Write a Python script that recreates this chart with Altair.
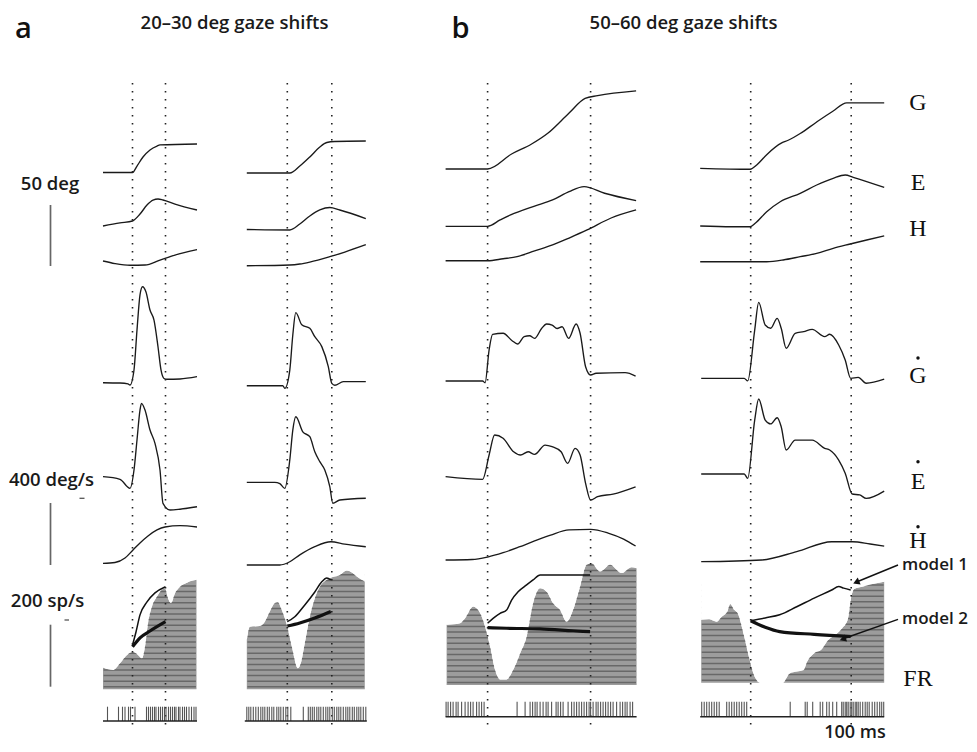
import altair as alt
import pandas as pd

# ---------------- data (t in ms from gaze onset) ----------------
# column a1 : 20-30 deg, first example
A1_G_T = [-59, 0, 9, 21, 35, 49, 55, 129]
A1_G = [0, 0, 5.3, 12.7, 18.5, 21.7, 22.6, 23.4]
A1_E_T = [-59, -25, 0, 15, 29, 41, 51, 61, 85, 129]
A1_E = [0, 2.5, 4.1, 9.8, 17.2, 21.3, 22.1, 21.3, 18, 13.1]
A1_H_T = [-59, -35, -5, 25, 55, 85, 129]
A1_H = [0, -2.1, -3.5, -3.3, 0.8, 4.9, 9.4]
A1_GD_T = [-59, -25, -9, -5, 3, 9, 15, 20, 27, 35, 43, 51, 57, 63, 69, 95, 129]
A1_GD = [0, -2, -8, -15, 82, 340, 566, 619, 585, 469, 404, 232, 82, 27, 22, 24, 39]
A1_ED_T = [-59, -25, -5, 3, 9, 15, 18, 25, 35, 45, 55, 61, 75, 95, 129]
A1_ED = [0, -17, -75, 43, 237, 430, 473, 430, 301, 215, 43, -172, -215, -210, -194]
A1_HD_T = [-59, -35, -15, 1, 15, 31, 49, 65, 95, 129]
A1_HD = [0, 5, 34, 86, 131, 176, 215, 234, 243, 234]
A1_FR_T = [-59, -39, -25, -11, 1, 11, 19, 25, 31, 39, 49, 55, 65, 71, 77, 85, 95, 109, 128]
A1_FR = [70, 62, 84, 111, 120, 111, 100, 138, 213, 267, 299, 315, 326, 294, 278, 310, 331, 344, 353]
A1_M1_T = [0, 7, 15, 29, 45, 66]
A1_M1 = [143, 185, 240, 282, 311, 331]
A1_M2_T = [0, 15, 35, 66]
A1_M2 = [137, 166, 188, 218]
A1_SPIKES = [-50, -28, -20, -15, -8, -4, 5, 28, 32, 36, 40, 44, 47, 52, 56, 60, 64, 67, 72,
             76, 80, 84, 87, 92, 95, 100, 104, 108, 113, 118, 123, 127]

# column a2 : 20-30 deg, second example
A2_G_T = [-81, 5, 25, 45, 65, 79, 95, 157]
A2_G = [0, 0, 5.7, 13.1, 21.3, 25, 25.8, 26.2]
A2_E_T = [-81, 5, 25, 45, 65, 85, 105, 157]
A2_E = [0, -0.4, 4.5, 11.1, 16, 18, 16, 9]
A2_H_T = [-81, 5, 25, 45, 85, 115, 157]
A2_H = [0, 0.6, 1.4, 3, 7.4, 11.2, 17.2]
A2_GD_T = [-81, -9, -5, 5, 11, 17, 29, 45, 55, 69, 82, 89, 95, 112, 157]
A2_GD = [0, 0, -17, 101, 327, 471, 393, 370, 316, 252, 123, 15, 3, 26, 26]
A2_ED_T = [-81, -25, -15, -5, 5, 11, 17, 31, 45, 55, 65, 75, 85, 91, 105, 157]
A2_ED = [0, 0, -8, -39, 145, 337, 423, 326, 294, 197, 133, 79, -28, -135, -114, -103]
A2_HD_T = [-81, -15, 5, 25, 55, 87, 115, 157]
A2_HD = [0, 0, 21, 65, 118, 150, 135, 118]
A2_FR_T = [-81, -75, -55, -45, -35, -25, -19, -11, -1, 9, 21, 27, 35, 45, 55, 65, 79, 91,
           105, 119, 129, 139, 155]
A2_FR = [159, 202, 204, 218, 251, 278, 281, 256, 208, 138, 68, 84, 149, 234, 294, 331, 353,
         362, 369, 383, 377, 364, 348]
A2_M1_T = [0, 15, 35, 55, 69, 79, 87]
A2_M1 = [218, 234, 272, 314, 347, 359, 353]
A2_M2_T = [0, 25, 55, 87]
A2_M2 = [204, 214, 230, 251]
A2_SPIKES = [-81, -77, -73, -68, -63, -58, -53, -49, -45, -40, -36, -31, -27, -21, -17, -13,
             -8, -3, 1, 7, 32, 42, 46, 50, 54, 59, 63, 67, 72, 77, 81, 85, 90, 94, 99, 103,
             107, 112, 117, 121, 125, 130, 134, 139, 143, 147, 152, 157]

# column b1 : 50-60 deg, first example
B1_G_T = [-84, 0, 48, 88, 121, 163, 195, 220, 297]
B1_G = [0, 0, 12.3, 20.5, 29.5, 45.9, 57.9, 60.1, 64]
B1_E_T = [-84, 0, 25, 46, 94, 130, 163, 193, 234, 297]
B1_E = [0, 0, 5.2, 9.3, 16.6, 21.6, 28.4, 32.5, 27.1, 21]
B1_H_T = [-84, 0, 31, 59, 94, 130, 163, 199, 247, 297]
B1_H = [0, 0, 1.6, 3.3, 8, 12.9, 18.6, 25.2, 35, 41.6]
B1_GD_T = [-84, -10, -5, 3, 10, 31, 49, 60, 73, 84, 94, 108, 118, 129, 139, 149, 162, 177,
           185, 196, 206, 217, 275, 296]
B1_GD = [0, 0, -11, 200, 301, 308, 260, 239, 286, 292, 275, 339, 368, 361, 339, 350, 275,
         368, 308, 92, 39, 50, 54, 32]
B1_ED_T = [-84, -10, 3, 14, 31, 52, 66, 81, 94, 115, 129, 147, 160, 175, 185, 196, 206, 220,
           251, 296]
B1_ED = [0, -17, 140, 269, 248, 161, 140, 161, 144, 204, 194, 161, 86, 183, 140, -43, -150,
         -129, -112, -65]
B1_HD_T = [-84, -31, 0, 31, 63, 94, 126, 163, 206, 241, 272, 296]
B1_HD = [0, 3, 19, 47, 84, 123, 161, 194, 198, 174, 135, 90]
B1_FR_T = [-82, -55, -45, -29, -15, -5, 5, 15, 25, 38, 51, 65, 78, 91, 105, 118, 131, 145,
           158, 171, 185, 198, 208, 225, 245, 268, 288, 298]
B1_FR = [194, 199, 215, 253, 232, 188, 124, 48, 18, 18, 48, 102, 156, 264, 312, 301, 264,
         242, 204, 242, 318, 388, 393, 366, 388, 361, 380, 377]
B1_M1_T = [0, 11, 25, 38, 48, 61, 78, 91, 105, 205]
B1_M1 = [199, 215, 231, 242, 274, 301, 323, 339, 355, 355]
B1_M2_T = [0, 38, 105, 171, 205]
B1_M2 = [185, 183, 181, 175, 172]
B1_SPIKES = [-83, -79, -74, -69, -63, -59, -52, -45, -39, -34, -29, -22, -17, -12, -7, 59, 75,
             85, 90, 95, 99, 105, 111, 117, 121, 128, 137, 141, 146, 151, 161, 168, 173, 178,
             183, 188, 193, 198, 203, 206, 211, 217, 221, 226, 231, 236, 241, 246, 251, 258,
             265, 270, 275, 279, 285, 290]

# column b2 : 50-60 deg, second example
B2_G_T = [-101, -1, 12, 32, 62, 75, 99, 132, 165, 192, 232, 267]
B2_G = [0, -0.8, 2.7, 11.2, 20.8, 23, 28.5, 38, 47, 53.6, 53.6, 53.6]
B2_E_T = [-101, -38, -1, 9, 32, 59, 99, 132, 165, 189, 205, 267]
B2_E = [0, -0.6, -0.6, 2.2, 11.7, 19.9, 26.8, 33.6, 39.1, 41.8, 39.9, 31.6]
B2_H_T = [-101, 32, 65, 99, 132, 165, 199, 232, 267]
B2_H = [0, 0, 1.4, 4.1, 6.8, 11, 14.5, 17.8, 21.1]
B2_GD_T = [-99, -13, -6, 8, 16, 29, 40, 53, 61, 71, 89, 106, 123, 148, 158, 176, 189, 200,
           215, 231, 267]
B2_GD = [0, 0, -17, 311, 490, 344, 323, 387, 323, 194, 290, 301, 316, 269, 284, 215, 118, 0,
         6, -32, -6]
B2_ED_T = [-99, -13, -6, 8, 16, 29, 40, 53, 61, 71, 89, 106, 123, 148, 158, 176, 189, 203,
           218, 231, 267]
B2_ED = [0, 0, -28, 348, 484, 348, 323, 363, 305, 155, 219, 219, 219, 166, 155, 90, 5, -129,
         -135, -157, -110]
B2_HD_T = [-99, 22, 92, 162, 204, 239, 267]
B2_HD = [0, 11, 65, 129, 129, 114, 101]
B2_FR_T = [-99, -83, -68, -58, -47, -41, -33, -26, -13, -2, 8, 19, 64, 78, 92, 106, 113, 127,
           141, 155, 169, 183, 194, 200, 207, 225, 246, 267]
B2_FR = [203, 205, 197, 213, 229, 254, 235, 224, 149, 73, 19, 0, 0, 30, 36, 41, 68, 95, 106,
         138, 154, 176, 203, 267, 302, 310, 319, 326]
B2_M1_T = [0, 29, 58, 92, 127, 162, 176, 186, 200]
B2_M1 = [200, 209, 219, 245, 273, 299, 310, 305, 299]
B2_M2_T = [0, 29, 58, 127, 200]
B2_M2 = [200, 179, 165, 156, 149]
B2_SPIKES = [-98, -93, -88, -83, -78, -73, -68, -63, -48, -43, -38, -33, -28, -23, -18, -13,
             -8, 79, 109, 113, 124, 139, 144, 152, 157, 164, 172, 182, 185, 189, 192, 195,
             199, 202, 205, 209, 212, 215, 219, 224, 229, 233, 237, 243, 248, 253, 258, 262,
             266]

GAZE_DURATION = {"a1": 66, "a2": 89, "b1": 206, "b2": 201}

# ---------------- layout (plot units: x = ms, y = display units) ----------------
W, H = 961, 736
XMAX = 2 * W
POS_GAIN, VEL_GAIN, FR_GAIN = 1.22, 0.155, 0.31

LAYOUT = {
    "a1": dict(x0=249.0, G=571.5, E=518, H=483, GD=361.3, ED=267.3, HD=180.7, FR=54.7,
               rb=23, rt=37.3, span=(-59, 129)),
    "a2": dict(x0=558.6, G=571, E=514.5, H=478.3, GD=358.3, ED=261.7, HD=179, FR=54.7,
               rb=23, rt=37.3, span=(-85, 159)),
    "b1": dict(x0=959.2, G=575, E=517.7, H=483.3, GD=363, ED=267.3, HD=184, FR=59,
               rb=27.3, rt=42.3, span=(-84, 298)),
    "b2": dict(x0=1485.4, G=575.7, E=518, H=482.3, GD=365.7, ED=270, HD=182.3, FR=61.3,
               rb=27.3, rt=42.3, span=(-101, 267)),
}

DATA = {
    "a1": dict(G=(A1_G_T, A1_G), E=(A1_E_T, A1_E), H=(A1_H_T, A1_H), GD=(A1_GD_T, A1_GD),
               ED=(A1_ED_T, A1_ED), HD=(A1_HD_T, A1_HD), FR=(A1_FR_T, A1_FR),
               M1=(A1_M1_T, A1_M1), M2=(A1_M2_T, A1_M2), SP=A1_SPIKES),
    "a2": dict(G=(A2_G_T, A2_G), E=(A2_E_T, A2_E), H=(A2_H_T, A2_H), GD=(A2_GD_T, A2_GD),
               ED=(A2_ED_T, A2_ED), HD=(A2_HD_T, A2_HD), FR=(A2_FR_T, A2_FR),
               M1=(A2_M1_T, A2_M1), M2=(A2_M2_T, A2_M2), SP=A2_SPIKES),
    "b1": dict(G=(B1_G_T, B1_G), E=(B1_E_T, B1_E), H=(B1_H_T, B1_H), GD=(B1_GD_T, B1_GD),
               ED=(B1_ED_T, B1_ED), HD=(B1_HD_T, B1_HD), FR=(B1_FR_T, B1_FR),
               M1=(B1_M1_T, B1_M1), M2=(B1_M2_T, B1_M2), SP=B1_SPIKES),
    "b2": dict(G=(B2_G_T, B2_G), E=(B2_E_T, B2_E), H=(B2_H_T, B2_H), GD=(B2_GD_T, B2_GD),
               ED=(B2_ED_T, B2_ED), HD=(B2_HD_T, B2_HD), FR=(B2_FR_T, B2_FR),
               M1=(B2_M1_T, B2_M1), M2=(B2_M2_T, B2_M2), SP=B2_SPIKES),
}

GAIN = {"G": POS_GAIN, "E": POS_GAIN, "H": POS_GAIN, "GD": VEL_GAIN, "ED": VEL_GAIN,
        "HD": VEL_GAIN}

XS = alt.Scale(domain=[0, XMAX], nice=False, zero=False)
YS = alt.Scale(domain=[0, H], nice=False, zero=False)
X = alt.X("x:Q", scale=XS, axis=None)
Y = alt.Y("y:Q", scale=YS, axis=None, stack=None)

lines, models, stripes, dots, spikes, rbase = [], [], [], [], [], []
fr_layers, mask_layers = [], []
for col, lay in LAYOUT.items():
    d = DATA[col]
    x0 = lay["x0"]
    for name, gain in GAIN.items():
        t, v = d[name]
        for i, (ti, vi) in enumerate(zip(t, v)):
            lines.append(dict(key=f"{col}_{name}", i=i, x=x0 + ti, y=lay[name] + vi * gain))
    for name, w in (("M1", 1.5), ("M2", 3.2)):
        t, v = d[name]
        for i, (ti, vi) in enumerate(zip(t, v)):
            models.append(dict(key=f"{col}_{name}", i=i, x=x0 + ti,
                               y=lay["FR"] + vi * FR_GAIN, w=w))
    t, v = d["FR"]
    peak = lay["FR"] + max(v) * FR_GAIN
    fr_df = pd.DataFrame(dict(x=[x0 + ti for ti in t],
                              y=[lay["FR"] + vi * FR_GAIN for vi in v]))
    fr_df["y0"] = lay["FR"]
    fr_df["top"] = peak + 4
    fr_layers.append(alt.Chart(fr_df).mark_area(
        color="#9c9c9c", opacity=1, interpolate="monotone").encode(
        x=X, y=Y, y2=alt.Y2("y0:Q")))
    mask_layers.append(alt.Chart(fr_df).mark_area(
        color="#ffffff", opacity=1, interpolate="monotone").encode(
        x=X, y=Y, y2=alt.Y2("top:Q")))
    lvl = lay["FR"] + 2.5
    while lvl < peak - 1.5:
        stripes.append(dict(x=x0 + t[0] + 1.2, x2=x0 + t[-1] - 1.2, y=lvl))
        lvl += 5.6
    for tt in (0, GAZE_DURATION[col]):
        dots.append(dict(x=x0 + tt, y=661, y2=17))
    for s in d["SP"]:
        spikes.append(dict(x=x0 + s, y=lay["rt"], y2=lay["rb"]))
    rbase.append(dict(x=x0 + lay["span"][0], x2=x0 + lay["span"][1], y=lay["rb"]))

lines_df = pd.DataFrame(lines)
models_df = pd.DataFrame(models)
stripes_df = pd.DataFrame(stripes)
dots_df = pd.DataFrame(dots)
spikes_df = pd.DataFrame(spikes)
rbase_df = pd.DataFrame(rbase)

# scale bars: 50 deg, 400 deg/s, 200 sp/s
bars_df = pd.DataFrame([
    dict(x=85, y=478, y2=478 + 50 * POS_GAIN),
    dict(x=85, y=179, y2=179 + 400 * VEL_GAIN),
    dict(x=85, y=57.3, y2=57.3 + 200 * FR_GAIN),
])
ticks_df = pd.DataFrame([dict(x=143, x2=153, y=245.7), dict(x=113, x2=122, y=124)])

stripe_layer = alt.Chart(stripes_df).mark_rule(color="#686868", strokeWidth=1.5).encode(
    x=X, x2="x2:Q", y=Y)
trace_layer = alt.Chart(lines_df).mark_line(color="#1a1a1a", strokeWidth=1.35,
                                             interpolate="monotone").encode(
    x=X, y=Y, detail="key:N", order="i:Q")
model_layer = alt.Chart(models_df).mark_line(color="#111111", interpolate="monotone").encode(
    x=X, y=Y, detail="key:N", order="i:Q",
    strokeWidth=alt.StrokeWidth("w:Q", scale=None))
dot_layer = alt.Chart(dots_df).mark_rule(color="#222222", strokeWidth=1.6,
                                          strokeDash=[1.6, 6.4]).encode(
    x=X, y=Y, y2="y2:Q")
spike_layer = alt.Chart(spikes_df).mark_rule(color="#555555", strokeWidth=1.1).encode(
    x=X, y=Y, y2="y2:Q")
rbase_layer = alt.Chart(rbase_df).mark_rule(color="#222222", strokeWidth=1.6).encode(
    x=X, x2="x2:Q", y=Y)
bar_layer = alt.Chart(bars_df).mark_rule(color="#666666", strokeWidth=1.7).encode(
    x=X, y=Y, y2="y2:Q")
tick_layer = alt.Chart(ticks_df).mark_rule(color="#555555", strokeWidth=1.3).encode(
    x=X, x2="x2:Q", y=Y)

SANS = "Open Sans"
SERIF = "Liberation Serif"


def texts(rows, **kw):
    return alt.Chart(pd.DataFrame(rows)).mark_text(**kw).encode(x=X, y=Y, text="label:N")


panel_letters = texts([dict(x=31, y=706, label="a"), dict(x=905, y=706, label="b")],
                      font=SANS, fontSize=29, fontWeight=600, align="center",
                      baseline="alphabetic", color="#111111")
titles = texts([dict(x=453, y=714.7, label="20–30 deg gaze shifts"),
                dict(x=1351, y=714.7, label="50–60 deg gaze shifts")],
               font=SANS, fontSize=18.5, fontWeight=600, align="center",
               baseline="alphabetic", color="#1a1a1a")
scale_labels = texts([dict(x=84, y=554, label="50 deg"),
                      dict(x=87, y=258.5, label="400 deg/s"),
                      dict(x=79, y=137.3, label="200 sp/s")],
                     font=SANS, fontSize=18.5, fontWeight=600, align="center",
                     baseline="alphabetic", color="#1a1a1a")
ms_label = texts([dict(x=1694, y=6, label="100 ms")], font=SANS, fontSize=18,
                 fontWeight=600, align="center", baseline="alphabetic", color="#1a1a1a")
model_labels = texts([dict(x=1788, y=179, label="model 1"),
                      dict(x=1788, y=125, label="model 2")],
                     font=SANS, fontSize=17, fontWeight=600, align="left",
                     baseline="middle", color="#1a1a1a")
serif_labels = texts([dict(x=1820, y=634.4, label="G"), dict(x=1820, y=554.4, label="E"),
                      dict(x=1820, y=508.4, label="H"), dict(x=1820, y=361.4, label="G"),
                      dict(x=1820, y=254.7, label="E"), dict(x=1820, y=196.4, label="H"),
                      dict(x=1820, y=58.4, label="FR")],
                     font=SERIF, fontSize=24, align="center", baseline="alphabetic",
                     color="#111111")
dot_marks = alt.Chart(pd.DataFrame([dict(x=1820, y=386), dict(x=1820, y=282.3),
                                    dict(x=1820, y=217.3)])).mark_circle(
    size=12, color="#111111", opacity=1).encode(x=X, y=Y)

arrows_df = pd.DataFrame([
    dict(x=1780, y=179, x2=1697, y2=162, hx=1698.4, hy=162.2, ang=247.6),
    dict(x=1780, y=124.7, x2=1672, y2=105.5, hx=1671.6, hy=105.3, ang=250.2),
])
arrow_shaft = alt.Chart(arrows_df).mark_rule(color="#111111", strokeWidth=1.4).encode(
    x=X, y=Y, x2="x2:Q", y2="y2:Q")
arrow_head = alt.Chart(arrows_df).mark_point(shape="triangle", filled=True, size=55,
                                              color="#111111", opacity=1).encode(
    x=alt.X("hx:Q", scale=XS, axis=None),
    y=alt.Y("hy:Q", scale=YS, axis=None),
    angle=alt.Angle("ang:Q", scale=None))

chart = alt.layer(
    *fr_layers, stripe_layer, *mask_layers, trace_layer, model_layer, dot_layer,
    spike_layer, rbase_layer, bar_layer, tick_layer, panel_letters, titles, scale_labels,
    ms_label, model_labels, serif_labels, dot_marks, arrow_shaft, arrow_head,
).properties(
    width=W, height=H, padding=0, background="white",
    autosize=alt.AutoSizeParams(type="none"),
).configure_view(stroke=None)

chart.save("out.html", embed_options={"renderer": "svg", "actions": False})
